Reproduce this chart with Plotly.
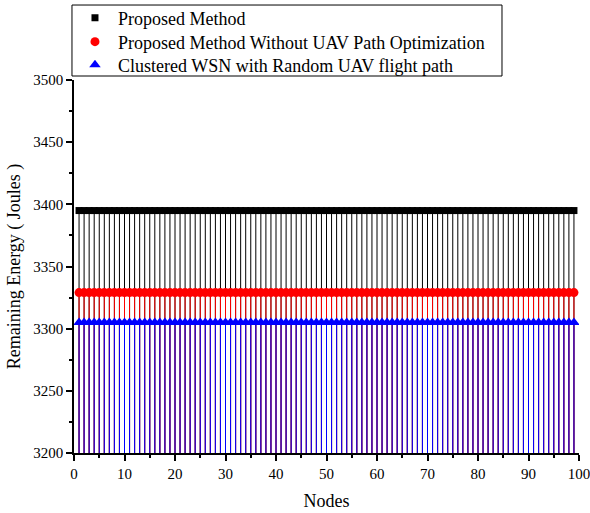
import plotly.graph_objects as go

nodes = list(range(1, 100))
proposed = [3395] * len(nodes)
without_opt = [3329] * len(nodes)
random_path = [3305] * len(nodes)
base = 3200

series = [
    ("Proposed Method", proposed, "black", "square", 7),
    ("Proposed Method Without UAV Path Optimization", without_opt, "red", "circle", 9),
    ("Clustered WSN with Random UAV flight path", random_path, "blue", "triangle-up", 10),
]
legend_ids = ["legend", "legend2", "legend3"]
legend_rows = [1.166, 1.102, 1.040]

FONT = "Times New Roman, Liberation Serif, serif"

fig = go.Figure()
for (name, vals, col, sym, sz), lid in zip(series, legend_ids):
    fig.add_trace(go.Scatter(
        x=nodes, y=vals, mode="markers", name=name, legend=lid,
        marker=dict(color=col, symbol=sym, size=sz, line=dict(width=0)),
        error_y=dict(type="data", symmetric=False, array=[0] * len(vals),
                     arrayminus=[v - base for v in vals], color=col,
                     thickness=1, width=0),
    ))

legend_style = dict(x=-0.004, xanchor="left", yanchor="middle",
                    borderwidth=0, bgcolor="rgba(0,0,0,0)",
                    font=dict(family=FONT, size=18, color="black"),
                    itemsizing="trace", itemwidth=36)

axis_font = dict(family=FONT, size=15, color="black")
fig.update_layout(
    width=590, height=513,
    margin=dict(l=74, r=11, t=80, b=60, autoexpand=False),
    paper_bgcolor="white", plot_bgcolor="white",
    font=dict(family=FONT, color="black"),
    showlegend=True,
    legend=dict(y=legend_rows[0], **legend_style),
    legend2=dict(y=legend_rows[1], **legend_style),
    legend3=dict(y=legend_rows[2], **legend_style),
    shapes=[dict(type="rect", xref="paper", yref="paper",
                 x0=-0.004, x1=0.8475, y0=1.0107, y1=1.201,
                 line=dict(color="black", width=1), fillcolor="rgba(0,0,0,0)")],
    xaxis=dict(range=[0, 100], dtick=10, tick0=0, showgrid=False, zeroline=False,
               automargin=False, ticklabeloverflow="allow",
               showline=True, linecolor="black", linewidth=1.5,
               ticks="outside", ticklen=6, tickwidth=1.5, tickcolor="black",
               tickfont=axis_font,
               minor=dict(dtick=5, ticks="outside", ticklen=3, tickwidth=1.5, tickcolor="black"),
               title=dict(text="Nodes", font=dict(family=FONT, size=18), standoff=14)),
    yaxis=dict(range=[3200, 3500], dtick=50, tick0=3200, showgrid=False, zeroline=False,
               automargin=False, ticklabeloverflow="allow",
               showline=True, linecolor="black", linewidth=1.5,
               ticks="outside", ticklen=6, tickwidth=1.5, tickcolor="black",
               tickfont=axis_font,
               minor=dict(dtick=25, ticks="outside", ticklen=3, tickwidth=1.5, tickcolor="black"),
               title=dict(text="Remaining Energy ( Joules )", font=dict(family=FONT, size=18), standoff=8)),
)

fig.write_html("out.html")
